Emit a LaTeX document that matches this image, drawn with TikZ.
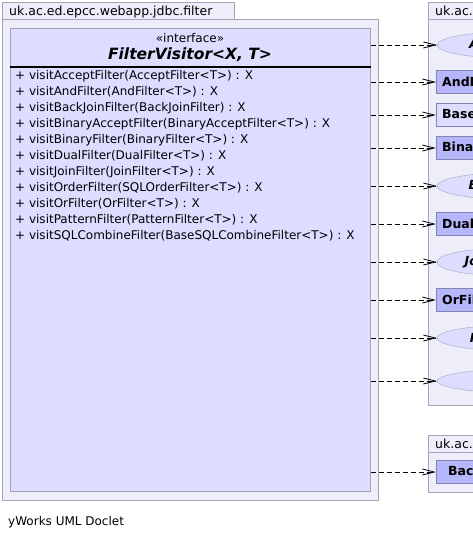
\documentclass[tikz,border=0pt]{standalone}
\usepackage{fontspec}
\setmainfont{DejaVu Sans}
\usetikzlibrary{positioning, arrows.meta, shapes.geometric}
\definecolor{pkgfill}{HTML}{EEEEFB}
\definecolor{pkgline}{HTML}{A4A4B8}
\definecolor{clsfill}{HTML}{DDDDFF}
\definecolor{cfill}{HTML}{B6B6FA}
\definecolor{cline}{HTML}{8484B4}
\tikzset{pkg/.style={draw=pkgline, fill=pkgfill, line width=0.9pt}}
\tikzset{tabtext/.style={anchor=base west, inner sep=0pt, font=\fontsize{12.5}{15}\selectfont}}
\tikzset{iface/.style={ellipse, draw=pkgline, fill=clsfill, anchor=west, inner xsep=10pt, minimum height=26pt, font=\bfseries\itshape\fontsize{12.5}{14}\selectfont}}
\tikzset{cls/.style={rectangle, draw=cline, fill=cfill, anchor=west, minimum height=23pt, inner xsep=6pt, font=\bfseries\fontsize{12.5}{14}\selectfont}}
\tikzset{dep/.style={dash pattern=on 5pt off 3pt, line width=0.8pt, -{Straight Barb[length=12pt,width=6pt]}}}

\begin{document}
\begin{tikzpicture}[x=1pt, y=-1pt]
    \clip (0,0) rectangle (473,538);
    \fill[white] (0,0) rectangle (473,538);

    % package of the visitor
    \draw[pkg] (2,2) rectangle (234,19);
    \draw[pkg] (2,19) rectangle (378,500);
    \node[tabtext] (pkgname) at (9,15) {uk.ac.ed.epcc.webapp.jdbc.filter};

    \node[draw=pkgline, fill=clsfill, line width=0.9pt, inner sep=0pt, anchor=north west,
          minimum width=360pt, minimum height=463pt] (fv) at (10,28) {};
    \node[font=\fontsize{12}{14}\selectfont] (stereo) at (190,38) {«interface»};
    \node[font=\bfseries\itshape\fontsize{15.5}{17}\selectfont] (title) at (190,55) {FilterVisitor<X, T>};
    \draw[line width=2pt] (fv.west |- 0,67) -- (fv.east |- 0,67);
    \node[anchor=north west, align=left, inner sep=0pt,
          font=\fontsize{12}{16}\selectfont] (ops) at (15,70) {%
        + visitAcceptFilter(AcceptFilter<T>) : X\\
        + visitAndFilter(AndFilter<T>) : X\\
        + visitBackJoinFilter(BackJoinFilter) : X\\
        + visitBinaryAcceptFilter(BinaryAcceptFilter<T>) : X\\
        + visitBinaryFilter(BinaryFilter<T>) : X\\
        + visitDualFilter(DualFilter<T>) : X\\
        + visitJoinFilter(JoinFilter<T>) : X\\
        + visitOrderFilter(SQLOrderFilter<T>) : X\\
        + visitOrFilter(OrFilter<T>) : X\\
        + visitPatternFilter(PatternFilter<T>) : X\\
        + visitSQLCombineFilter(BaseSQLCombineFilter<T>) : X};

    % the other packages
    \draw[pkg] (428,2) rectangle (520,19);
    \draw[pkg] (428,19) rectangle (520,405);
    \node[tabtext] (pkgone) at (435,15) {uk.ac.};
    \draw[pkg] (428,435) rectangle (520,452);
    \draw[pkg] (428,452) rectangle (520,492);
    \node[tabtext] (pkgtwo) at (435,448) {uk.ac.};

    \node[iface] (accept) at (437,45) {AcceptFilter};
    \node[cls] (and) at (436,82) {AndFilter};
    \node[cls, fill=clsfill] (base) at (436,115) {BaseSQLCombineFilter};
    \node[cls] (binacc) at (436,148) {BinaryAcceptFilter};
    \node[iface] (binary) at (437,186) {BinaryFilter};
    \node[cls] (dual) at (436,224) {DualFilter};
    \node[iface] (join) at (437,262) {JoinFilter};
    \node[cls] (or) at (436,300) {OrFilter};
    \node[iface] (pattern) at (437,338) {PatternFilter};
    \node[iface, inner xsep=18pt] (order) at (437,381) {SQLOrderFilter};
    \node[cls, inner xsep=12pt] (backjoin) at (436,472) {BackJoinFilter};

    \foreach \t in {accept, and, base, binacc, binary, dual, join, or, pattern, order, backjoin}
        \draw[dep] (fv.east |- \t) -- (\t.west);

    \node[anchor=base west, inner sep=0pt, font=\fontsize{12}{14}\selectfont] (doclet) at (8,525) {yWorks UML Doclet};
\end{tikzpicture}
\end{document}
